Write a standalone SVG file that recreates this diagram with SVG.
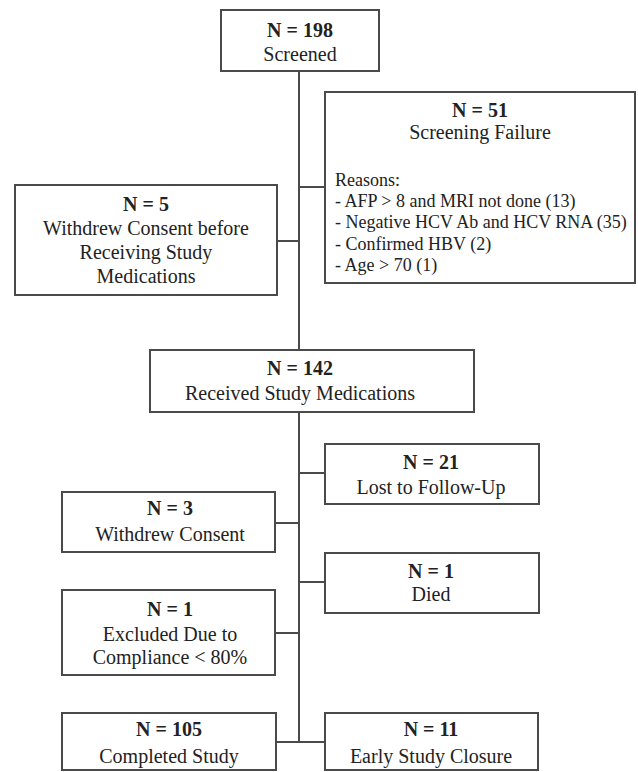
<svg xmlns="http://www.w3.org/2000/svg" width="638" height="772" viewBox="0 0 638 772">
<style>
.box{fill:#fff;stroke:#4a4a4a;stroke-width:2}
.ln{stroke:#4a4a4a;stroke-width:2;fill:none}
text{font-family:"Liberation Serif","Times New Roman",serif;font-size:20px;fill:#222;text-anchor:middle}
.b{font-weight:bold}
.r{font-size:18px;text-anchor:start}
</style>
<rect width="638" height="772" fill="#fff"/>
<g id="connectors">
<line class="ln" x1="299" y1="71" x2="299" y2="742"/>
<line class="ln" x1="299" y1="187" x2="325" y2="187"/>
<line class="ln" x1="277" y1="241" x2="299" y2="241"/>
<line class="ln" x1="299" y1="473" x2="325" y2="473"/>
<line class="ln" x1="275" y1="523" x2="299" y2="523"/>
<line class="ln" x1="299" y1="582" x2="325" y2="582"/>
<line class="ln" x1="275" y1="633" x2="299" y2="633"/>
<line class="ln" x1="276" y1="742" x2="325" y2="742"/>
</g>
<g id="screened">
<rect class="box" x="221" y="10" width="158" height="61"/>
<text class="b" x="300" y="37">N = 198</text>
<text x="300" y="61">Screened</text>
</g>
<g id="screening-failure">
<rect class="box" x="325" y="92" width="310" height="191"/>
<text class="b" x="480" y="117">N = 51</text>
<text x="480" y="139">Screening Failure</text>
<text class="r" x="335" y="186">Reasons:</text>
<text class="r" x="335" y="207">- AFP &gt; 8 and MRI not done (13)</text>
<text class="r" x="335" y="228">- Negative HCV Ab and HCV RNA (35)</text>
<text class="r" x="335" y="250">- Confirmed HBV (2)</text>
<text class="r" x="335" y="271">- Age &gt; 70 (1)</text>
</g>
<g id="withdrew-before">
<rect class="box" x="15" y="185" width="262" height="110"/>
<text class="b" x="146" y="211">N = 5</text>
<text x="146" y="235">Withdrew Consent before</text>
<text x="146" y="259">Receiving Study</text>
<text x="146" y="283">Medications</text>
</g>
<g id="received">
<rect class="box" x="150" y="350" width="324" height="62"/>
<text class="b" x="300" y="375">N = 142</text>
<text x="300" y="400">Received Study Medications</text>
</g>
<g id="lost">
<rect class="box" x="325" y="444" width="214" height="60"/>
<text class="b" x="431" y="469">N = 21</text>
<text x="431" y="494">Lost to Follow-Up</text>
</g>
<g id="withdrew">
<rect class="box" x="62" y="492" width="213" height="60"/>
<text class="b" x="170" y="515">N = 3</text>
<text x="170" y="541">Withdrew Consent</text>
</g>
<g id="died">
<rect class="box" x="325" y="553" width="214" height="60"/>
<text class="b" x="431" y="578">N = 1</text>
<text x="431" y="601">Died</text>
</g>
<g id="excluded">
<rect class="box" x="62" y="590" width="213" height="85"/>
<text class="b" x="170" y="616">N = 1</text>
<text x="170" y="641">Excluded Due to</text>
<text x="170" y="664">Compliance &lt; 80%</text>
</g>
<g id="completed">
<rect class="box" x="62" y="713" width="214" height="57"/>
<text class="b" x="169" y="736">N = 105</text>
<text x="169" y="763">Completed Study</text>
</g>
<g id="early">
<rect class="box" x="325" y="713" width="213" height="57"/>
<text class="b" x="431" y="736">N = 11</text>
<text x="431" y="763">Early Study Closure</text>
</g>
</svg>
